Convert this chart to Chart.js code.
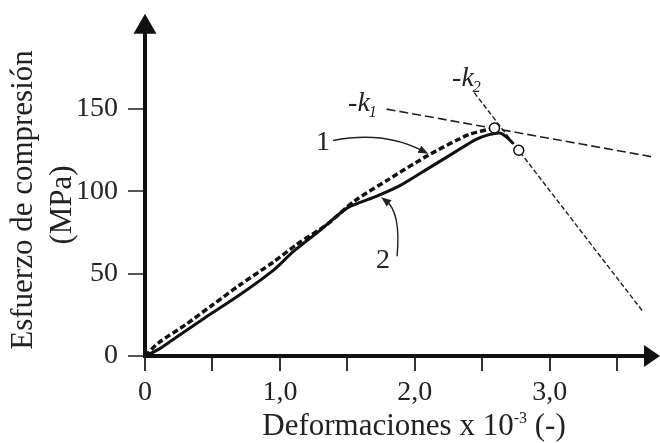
<!DOCTYPE html>
<html>
<head>
<meta charset="utf-8">
<script src="https://cdn.jsdelivr.net/npm/chart.js@4"></script>
<style>
  html, body { margin: 0; padding: 0; background: #fff; }
  #wrap { width: 660px; height: 443px; }
</style>
</head>
<body>
<div id="wrap"><canvas id="c" width="660" height="443"></canvas></div>
<script>
// ---- data ----
const curve1X = [0, 0.1, 0.3, 0.5, 0.7, 0.95, 1.12, 1.35, 1.55, 1.8, 2.1, 2.4, 2.59];
const curve1Y = [0, 8, 19, 31, 43, 57, 67.5, 80, 94, 107, 122, 134.5, 138.5];

const curve2X = [0, 0.1, 0.2, 0.45, 0.7, 0.95, 1.1, 1.3, 1.5, 1.7, 1.9, 2.1, 2.3, 2.45, 2.55, 2.63, 2.68, 2.73];
const curve2Y = [0, 4, 9.5, 23.5, 37, 52, 63.5, 76.5, 90, 96.5, 104, 114, 124, 131.5, 134.5, 135.5, 133, 129];

const k1X = [1.79, 3.76];
const k1Y = [150, 121];
const k2X = [2.44, 3.69];
const k2Y = [160, 27];

const circleX = [2.59, 2.77];
const circleY = [138.5, 125];

const xTickValues = [0, 0.5, 1, 1.5, 2, 2.5, 3, 3.5];
const xTickLabels = ['0', '', '1,0', '', '2,0', '', '3,0', ''];
const yTickValues = [0, 50, 100, 150];
const yTickLabels = ['0', '50', '100', '150'];

const xTitleMain = 'Deformaciones x 10';
const xTitleSup = '-3';
const xTitleTail = ' (-)';
const yTitleLines = ['Esfuerzo de compresión', '(MPa)'];

// annotation anchors in data units
const noteText = ['1', '2'];
const noteX = [1.32, 1.764];
const noteY = [129.7, 58.2];
const arrowFromX = [1.394, 1.868], arrowFromY = [130.9, 60.6];
const arrowCtrlX = [1.77, 1.898], arrowCtrlY = [137, 87.3];
const arrowToX = [2.10, 1.75], arrowToY = [122.8, 96.4];
const kText = ['-k', '-k'];
const kSub = ['1', '2'];
const kX = [1.505, 2.276];
const kY = [149.1, 164.2];

const pts = (xs, ys) => xs.map((x, i) => ({ x, y: ys[i] }));
const SERIF = '"Liberation Serif", "Times New Roman", serif';
Chart.defaults.font.family = SERIF;

const decor = {
  id: 'decor',
  afterDraw(chart) {
    const { ctx, chartArea: a, scales } = chart;
    const px = v => scales.x.getPixelForValue(v);
    const py = v => scales.y.getPixelForValue(v);
    ctx.save();
    // axis arrowheads
    ctx.fillStyle = '#111';
    ctx.beginPath();
    ctx.moveTo(a.left, a.top - 13);
    ctx.lineTo(a.left - 11.5, a.top + 7);
    ctx.lineTo(a.left + 11.5, a.top + 7);
    ctx.closePath();
    ctx.fill();
    ctx.beginPath();
    ctx.moveTo(a.right + 9, a.bottom);
    ctx.lineTo(a.right - 7, a.bottom - 11);
    ctx.lineTo(a.right - 7, a.bottom + 11);
    ctx.closePath();
    ctx.fill();

    // y title
    ctx.fillStyle = '#222';
    ctx.font = '31px ' + SERIF;
    ctx.textAlign = 'center';
    ctx.textBaseline = 'middle';
    const yc = [200, 205], xc = [24, 63];
    yTitleLines.forEach((t, i) => {
      ctx.save();
      ctx.translate(xc[i], yc[i]);
      ctx.rotate(-Math.PI / 2);
      ctx.fillText(t, 0, 0);
      ctx.restore();
    });

    // x title with superscript
    ctx.textAlign = 'left';
    ctx.textBaseline = 'alphabetic';
    const bigF = '31px ' + SERIF, supF = '16px ' + SERIF;
    ctx.font = bigF; const w1 = ctx.measureText(xTitleMain).width; const w3 = ctx.measureText(xTitleTail).width;
    ctx.font = supF; const w2 = ctx.measureText(xTitleSup).width;
    let sx = 414 - (w1 + w2 + w3) / 2; const by = 435;
    ctx.font = bigF; ctx.fillText(xTitleMain, sx, by); sx += w1;
    ctx.font = supF; ctx.fillText(xTitleSup, sx, by - 12); sx += w2;
    ctx.font = bigF; ctx.fillText(xTitleTail, sx, by);

    // numbered labels with curved arrows
    ctx.font = '28px ' + SERIF;
    ctx.textAlign = 'center';
    ctx.textBaseline = 'middle';
    ctx.strokeStyle = '#222';
    ctx.fillStyle = '#222';
    ctx.lineWidth = 1.4;
    noteText.forEach((t, i) => {
      ctx.fillText(t, px(noteX[i]), py(noteY[i]));
      const p0 = { x: px(arrowFromX[i]), y: py(arrowFromY[i]) };
      const c = { x: px(arrowCtrlX[i]), y: py(arrowCtrlY[i]) };
      const p1 = { x: px(arrowToX[i]), y: py(arrowToY[i]) };
      const ang = Math.atan2(p1.y - c.y, p1.x - c.x);
      const L = 10, W = 4;
      ctx.beginPath();
      ctx.moveTo(p0.x, p0.y);
      ctx.quadraticCurveTo(c.x, c.y, p1.x - 6 * Math.cos(ang), p1.y - 6 * Math.sin(ang));
      ctx.stroke();
      ctx.beginPath();
      ctx.moveTo(p1.x, p1.y);
      ctx.lineTo(p1.x - L * Math.cos(ang) + W * Math.sin(ang), p1.y - L * Math.sin(ang) - W * Math.cos(ang));
      ctx.lineTo(p1.x - L * Math.cos(ang) - W * Math.sin(ang), p1.y - L * Math.sin(ang) + W * Math.cos(ang));
      ctx.closePath();
      ctx.fill();
    });

    // -k labels (italic with subscript)
    ctx.textAlign = 'left';
    ctx.textBaseline = 'alphabetic';
    kText.forEach((t, i) => {
      const x0 = px(kX[i]), y0 = py(kY[i]);
      ctx.font = 'italic 28px ' + SERIF;
      ctx.fillText(t, x0, y0);
      const w = ctx.measureText(t).width;
      ctx.font = 'italic 16px ' + SERIF;
      ctx.fillText(kSub[i], x0 + w - 1, y0 + 6);
    });
    ctx.restore();
  }
};

new Chart(document.getElementById('c'), {
  type: 'scatter',
  data: {
    datasets: [
      { label: 'puntos', data: pts(circleX, circleY), showLine: false, pointRadius: 5,
        pointBackgroundColor: '#fff', pointBorderColor: '#111', pointBorderWidth: 1.5, order: 0 },
      { label: '1', data: pts(curve1X, curve1Y), showLine: true, borderColor: '#111', borderWidth: 3.5,
        borderDash: [6, 3], pointRadius: 0, tension: 0.25, order: 1 },
      { label: '2', data: pts(curve2X, curve2Y), showLine: true, borderColor: '#111', borderWidth: 3,
        pointRadius: 0, tension: 0.25, order: 2 },
      { label: '-k1', data: pts(k1X, k1Y), showLine: true, borderColor: '#222', borderWidth: 1.6,
        borderDash: [9, 4], pointRadius: 0, order: 3 },
      { label: '-k2', data: pts(k2X, k2Y), showLine: true, borderColor: '#222', borderWidth: 1.4,
        borderDash: [5, 2.5], pointRadius: 0, order: 3 }
    ]
  },
  options: {
    responsive: false,
    animation: false,
    layout: { padding: { top: 26, right: 9, left: 0, bottom: 0 } },
    plugins: { legend: { display: false }, tooltip: { enabled: false } },
    scales: {
      x: {
        type: 'linear', min: 0, max: 3.75,
        afterBuildTicks: s => { s.ticks = xTickValues.map(v => ({ value: v })); },
        afterFit: s => { s.height = 87; },
        ticks: { callback: (v, i) => xTickLabels[i], font: { size: 28 }, color: '#222',
                 padding: 5, maxRotation: 0, autoSkip: false },
        grid: { display: true, drawOnChartArea: false, drawTicks: true, tickLength: 15, lineWidth: 2, color: '#333' },
        border: { display: true, width: 4, color: '#111' }
      },
      y: {
        type: 'linear', min: 0, max: 200,
        afterBuildTicks: s => { s.ticks = yTickValues.map(v => ({ value: v })); },
        afterFit: s => { s.width = 145; },
        ticks: { callback: (v, i) => yTickLabels[i], font: { size: 28 }, color: '#222', padding: 10, autoSkip: false },
        grid: { display: true, drawOnChartArea: false, drawTicks: true, tickLength: 17, lineWidth: 2, color: '#555' },
        border: { display: true, width: 4, color: '#111' }
      }
    }
  },
  plugins: [decor]
});
</script>
</body>
</html>
